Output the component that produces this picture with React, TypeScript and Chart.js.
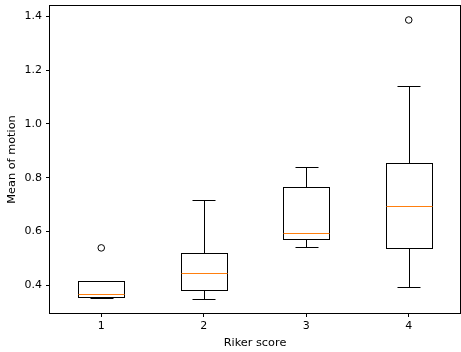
import React, { useEffect, useRef } from "react";
import { Chart, registerables } from "chart.js";

Chart.register(...registerables);

const categories = [1, 2, 3, 4];
const whiskerLow = [0.354, 0.348, 0.544, 0.395];
const q1 = [0.357, 0.381, 0.571, 0.539];
const medians = [0.367, 0.445, 0.596, 0.695];
const q3 = [0.415, 0.52, 0.764, 0.854];
const whiskerHigh = [0.415, 0.717, 0.839, 1.141];
const outliers: number[][] = [[0.539], [], [], [1.386]];
const yTicks = [0.4, 0.6, 0.8, 1.0, 1.2, 1.4];
const xLabel = "Riker score";
const yLabel = "Mean of motion";
const boxWidth = 0.45;

const FONT = { family: "'DejaVu Sans', sans-serif", size: 11 };
const TITLE_FONT = { family: "'DejaVu Sans', sans-serif", size: 11.3 };

const boxPlugin = {
  id: "boxPlugin",
  beforeDatasetsDraw(chart: any) {
    const { ctx, scales } = chart;
    const xs = scales.x;
    const ys = scales.y;
    const px = (v: number) => Math.round(xs.getPixelForValue(v)) + 0.5;
    const py = (v: number) => Math.round(ys.getPixelForValue(v)) + 0.5;
    ctx.save();
    ctx.lineWidth = 1;
    categories.forEach((c, i) => {
      const xl = px(c - boxWidth / 2);
      const xr = px(c + boxWidth / 2);
      const xc = px(c);
      const cl = px(c - boxWidth / 4);
      const cr = px(c + boxWidth / 4);
      ctx.strokeStyle = "#000";
      ctx.beginPath();
      ctx.moveTo(xc, py(q3[i]));
      ctx.lineTo(xc, py(whiskerHigh[i]));
      ctx.moveTo(xc, py(q1[i]));
      ctx.lineTo(xc, py(whiskerLow[i]));
      ctx.moveTo(cl, py(whiskerHigh[i]));
      ctx.lineTo(cr, py(whiskerHigh[i]));
      ctx.moveTo(cl, py(whiskerLow[i]));
      ctx.lineTo(cr, py(whiskerLow[i]));
      ctx.stroke();
      ctx.strokeRect(xl, py(q3[i]), xr - xl, py(q1[i]) - py(q3[i]));
      ctx.strokeStyle = "#ff7f0e";
      ctx.beginPath();
      ctx.moveTo(xl, py(medians[i]));
      ctx.lineTo(xr, py(medians[i]));
      ctx.stroke();
    });
    ctx.restore();
  },
  afterDraw(chart: any) {
    const { ctx, chartArea } = chart;
    ctx.save();
    ctx.strokeStyle = "#000";
    ctx.lineWidth = 1;
    const l = Math.round(chartArea.left) - 0.5;
    const t = Math.round(chartArea.top) - 0.5;
    const r = Math.round(chartArea.right) + 0.5;
    const b = Math.round(chartArea.bottom) + 0.5;
    ctx.strokeRect(l, t, r - l, b - t);
    ctx.restore();
  },
};

const zeroPad = (s: any) => {
  s.paddingTop = 0;
  s.paddingBottom = 0;
  s.paddingLeft = 0;
  s.paddingRight = 0;
};

export default function App() {
  const ref = useRef<HTMLCanvasElement | null>(null);
  useEffect(() => {
    if (!ref.current) return;
    const outlierPoints = categories.flatMap((c, i) =>
      outliers[i].map((v) => ({ x: c, y: v }))
    );
    const chart = new Chart(ref.current, {
      type: "scatter",
      data: {
        datasets: [
          {
            data: outlierPoints,
            pointRadius: 3.3,
            pointBorderWidth: 1,
            pointBorderColor: "#000",
            pointBackgroundColor: "rgba(0,0,0,0)",
          },
        ],
      },
      options: {
        responsive: false,
        animation: false,
        devicePixelRatio: 1,
        layout: { padding: { top: 6, right: 1, left: 0, bottom: 0 } },
        plugins: { legend: { display: false }, tooltip: { enabled: false } },
        scales: {
          x: {
            type: "linear",
            min: 0.5,
            max: 4.5,
            afterBuildTicks: (s: any) => {
              s.ticks = categories.map((v) => ({ value: v }));
            },
            afterFit: (s: any) => {
              s.height = 39;
              zeroPad(s);
            },
            grid: {
              display: true,
              drawOnChartArea: false,
              drawTicks: true,
              tickLength: 4,
              color: "#000",
            },
            border: { display: false },
            ticks: {
              color: "#000",
              font: FONT,
              padding: 3,
              maxRotation: 0,
              autoSkip: false,
              callback: (v: any) => String(v),
            },
            title: {
              display: true,
              text: xLabel,
              color: "#000",
              font: TITLE_FONT,
              padding: { top: 0, bottom: 2 },
            },
          },
          y: {
            type: "linear",
            min: 0.297,
            max: 1.438,
            afterBuildTicks: (s: any) => {
              s.ticks = yTicks.map((v) => ({ value: v }));
            },
            afterFit: (s: any) => {
              s.width = 50;
              zeroPad(s);
            },
            grid: {
              display: true,
              drawOnChartArea: false,
              drawTicks: true,
              tickLength: 4,
              color: "#000",
            },
            border: { display: false },
            ticks: {
              color: "#000",
              font: FONT,
              padding: 4,
              autoSkip: false,
              callback: (v: any) => Number(v).toFixed(1),
            },
            title: {
              display: true,
              text: yLabel,
              color: "#000",
              font: TITLE_FONT,
              padding: { top: 5, bottom: 0 },
            },
          },
        },
      },
      plugins: [boxPlugin],
    } as any);
    return () => chart.destroy();
  }, []);
  return (
    <div
      style={{
        position: "fixed",
        left: 0,
        top: 0,
        width: 461,
        height: 352,
        overflow: "hidden",
        background: "#fff",
      }}
    >
      <canvas ref={ref} width={465} height={352} style={{ display: "block" }} />
    </div>
  );
}
